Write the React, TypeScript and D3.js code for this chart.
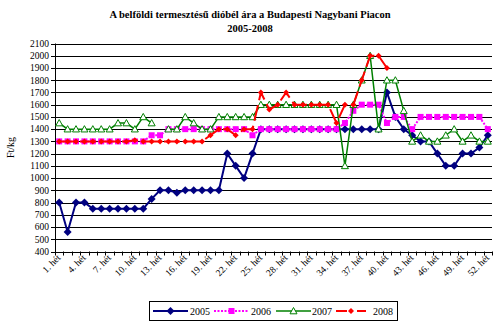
import React from "react";
import * as d3 from "d3";

const weeks: string[] = d3.range(1, 53).map((i) => `${i}. hét`);
const labelEvery = 3;
const yTicks: number[] = d3.range(400, 2101, 100);

const s2005: (number | null)[] = [
  800, 560, 800, 800, 750, 750, 750, 750, 750, 750, 750, 830, 900, 900, 880, 900, 900, 900, 900, 900,
  1200, 1100, 1000, 1200, 1400, 1400, 1400, 1400, 1400, 1400, 1400, 1400, 1400, 1400, 1400, 1400, 1400, 1400, 1400, 1700,
  1500, 1400, 1350, 1300, 1300, 1200, 1100, 1100, 1200, 1200, 1250, 1350,
];
const s2006: (number | null)[] = [
  1300, 1300, 1300, 1300, 1300, 1300, 1300, 1300, 1300, 1300, 1300, 1350, 1350, 1400, 1400, 1400, 1400, 1400, 1400, 1400,
  1400, 1400, 1400, 1350, 1400, 1400, 1400, 1400, 1400, 1400, 1400, 1400, 1400, 1400, 1450, 1550, 1600, 1600, 1600, 1450,
  1500, 1500, 1400, 1500, 1500, 1500, 1500, 1500, 1500, 1500, 1500, 1400,
];
const s2007: (number | null)[] = [
  1450, 1400, 1400, 1400, 1400, 1400, 1400, 1450, 1450, 1400, 1500, 1450, null, 1400, 1400, 1500, 1450, 1400, 1400, 1500,
  1500, 1500, 1500, 1500, 1600, 1600, 1600, 1600, 1600, 1600, 1600, 1600, 1600, 1600, 1100, 1600, 1800, 2000, 1400, 1800,
  1800, 1550, 1300, 1350, 1300, 1300, 1350, 1400, 1300, 1350, 1300, 1300,
];
const s2008: (number | null)[] = [
  1300, 1300, 1300, 1300, 1300, 1300, 1300, 1300, 1300, 1310, 1300, 1300, 1300, 1300, 1300, 1300, 1300, 1300, 1350, 1400,
  1400, 1350, 1400, 1400, 1700, 1560, 1600, 1700, 1600, 1600, 1600, 1600, 1600, 1450, 1600, 1600, 1800, 2000, 2000, 1900,
  null, null, null, null, null, null, null, null, null, null, null, null,
];

const seriesNames = ["2005", "2006", "2007", "2008"];

const FONT = "'Liberation Serif', 'Times New Roman', serif";

type Style = {
  color: string;
  width: number;
  dash?: string;
  marker: "diamond" | "square" | "triangle" | "smalldiamond";
};

const styles: Style[] = [
  { color: "#000080", width: 2, marker: "diamond" },
  { color: "#FF00FF", width: 2, dash: "2 1.5", marker: "square" },
  { color: "#008000", width: 1.5, marker: "triangle" },
  { color: "#FF0000", width: 2, dash: "16 5", marker: "smalldiamond" },
];

function Marker({ kind, x, y, color }: { kind: Style["marker"]; x: number; y: number; color: string }) {
  if (kind === "diamond") {
    const r = 4;
    return <path d={`M${x},${y - r}L${x + r},${y}L${x},${y + r}L${x - r},${y}Z`} fill={color} />;
  }
  if (kind === "smalldiamond") {
    const r = 3;
    return <path d={`M${x},${y - r}L${x + r},${y}L${x},${y + r}L${x - r},${y}Z`} fill={color} />;
  }
  if (kind === "square") {
    const r = 3;
    return <rect x={x - r} y={y - r} width={2 * r} height={2 * r} fill={color} />;
  }
  const r = 3.5;
  return (
    <path
      d={`M${x},${y - r}L${x + r},${y + r * 0.8}L${x - r},${y + r * 0.8}Z`}
      fill="white"
      stroke={color}
      strokeWidth={1}
    />
  );
}

export default function App() {
  const W = 500;
  const H = 324;
  const left = 55;
  const right = 492;
  const top = 43.5;
  const bottom = 251.5;

  const x = d3.scaleBand<string>().domain(weeks).range([left, right]).paddingInner(0).paddingOuter(0);
  const bw = x.bandwidth();
  const cx = (w: string) => (x(w) as number) + bw / 2;
  const y = d3.scaleLinear().domain([400, 2100]).range([bottom, top]);

  const all = [s2005, s2006, s2007, s2008];

  const line = d3
    .line<number | null>()
    .defined((d) => d !== null)
    .x((_, i) => cx(weeks[i]))
    .y((d) => y(d as number));

  const legendItems = [
    { x1: 153, x2: 188, tx: 190 },
    { x1: 214, x2: 249, tx: 251 },
    { x1: 276, x2: 311, tx: 312 },
    { x1: 336, x2: 366, tx: 373 },
  ];

  return (
    <svg width={W} height={H} style={{ display: "block", position: "absolute", left: 0, top: 0 }} fontFamily={FONT}>
      <rect x={0} y={0} width={W} height={H} fill="white" />
      <text x={250} y={18} textAnchor="middle" fontSize={10.5} fontWeight="bold">
        A belföldi termesztésű dióbél ára a Budapesti Nagybani Piacon
      </text>
      <text x={250} y={32} textAnchor="middle" fontSize={10.5} fontWeight="bold">
        2005-2008
      </text>

      {/* gridlines */}
      {yTicks.map((t) => (
        <line key={"g" + t} x1={left} x2={right} y1={Math.round(y(t)) + 0.5} y2={Math.round(y(t)) + 0.5} stroke="#000" strokeWidth={1} />
      ))}
      {/* y axis */}
      <line x1={left + 0.5} x2={left + 0.5} y1={top} y2={bottom + 1} stroke="#000" />
      {yTicks.map((t) => (
        <g key={"yt" + t}>
          <line x1={left - 4} x2={left} y1={Math.round(y(t)) + 0.5} y2={Math.round(y(t)) + 0.5} stroke="#000" />
          <text x={left - 6} y={y(t)} dy="0.35em" textAnchor="end" fontSize={9.5}>
            {t}
          </text>
        </g>
      ))}
      <text transform={`translate(14,${(top + bottom) / 2}) rotate(-90)`} textAnchor="middle" fontSize={10}>
        Ft/kg
      </text>

      {/* x axis ticks */}
      {d3.range(0, weeks.length + 1).map((i) => {
        const xx = Math.round(left + i * bw) + 0.5;
        return <line key={"xt" + i} x1={xx} x2={xx} y1={bottom} y2={bottom + 4} stroke="#000" />;
      })}
      {weeks.map((w, i) =>
        i % labelEvery === 0 ? (
          <text key={"xl" + i} transform={`translate(${cx(w) + 2},${bottom + 7}) rotate(-45)`} textAnchor="end" fontSize={9.5}>
            {w}
          </text>
        ) : null
      )}

      {/* series */}
      {all.map((data, si) => {
        const st = styles[si];
        return (
          <g key={"s" + si}>
            <path d={line(data) || ""} fill="none" stroke={st.color} strokeWidth={st.width} strokeDasharray={st.dash} />
            {data.map((v, i) =>
              v === null ? null : <Marker key={i} kind={st.marker} x={cx(weeks[i])} y={y(v)} color={st.color} />
            )}
          </g>
        );
      })}

      {/* legend */}
      <rect x={149.5} y={301.5} width={248} height={19} fill="white" stroke="#000" strokeWidth={1} />
      {legendItems.map((it, i) => {
        const st = styles[i];
        const ly = 311;
        return (
          <g key={"lg" + i}>
            <line x1={it.x1} x2={it.x2} y1={ly} y2={ly} stroke={st.color} strokeWidth={st.width} strokeDasharray={i === 3 ? "11 4 0 6" : st.dash} />
            <Marker kind={st.marker} x={(it.x1 + it.x2) / 2} y={ly} color={st.color} />
            <text x={it.tx} y={ly} dy="0.35em" fontSize={10}>
              {seriesNames[i]}
            </text>
          </g>
        );
      })}
    </svg>
  );
}
